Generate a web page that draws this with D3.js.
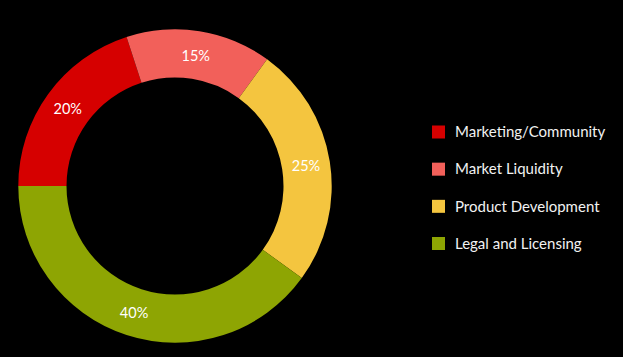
<!DOCTYPE html>
<html><head><meta charset="utf-8">
<script src="https://cdn.jsdelivr.net/npm/d3@7"></script>
<style>html,body{margin:0;padding:0;background:#000;}svg{display:block;}</style>
</head><body>
<svg id="chart" width="623" height="357"></svg>
<script>
const categories = ["Marketing/Community", "Market Liquidity", "Product Development", "Legal and Licensing"];
const values = [20, 15, 25, 40];
const colors = ["#d60000", "#f2605a", "#f4c53f", "#8ea503"];

const svg = d3.select("#chart");
svg.append("rect").attr("width", 623).attr("height", 357).attr("fill", "#000");

const cx = 175, cy = 186, rOuter = 156.7, rInner = 108.5;
const data = categories.map((c, i) => ({cat: c, value: values[i], color: colors[i]}));
const pie = d3.pie().value(d => d.value).sort(null).startAngle(-Math.PI / 2).endAngle(1.5 * Math.PI);
const arc = d3.arc().innerRadius(rInner).outerRadius(rOuter);
const g = svg.append("g").attr("transform", `translate(${cx},${cy})`);
const arcs = pie(data);
g.selectAll("path").data(arcs).join("path").attr("d", arc).attr("fill", d => d.data.color);
g.selectAll("text").data(arcs).join("text")
  .attr("transform", d => `translate(${arc.centroid(d)})`)
  .attr("text-anchor", "middle").attr("dy", "0.4em")
  .attr("fill", "#fff").style("font-family", "Lato, sans-serif").style("font-size", "14.5px")
  .text(d => d.data.value + "%");

const legend = svg.append("g");
const ly = d3.scalePoint().domain(categories).range([131.5, 243]);
const items = legend.selectAll("g").data(data).join("g").attr("transform", d => `translate(432,${ly(d.cat)})`);
items.append("rect").attr("x", 0).attr("y", -6).attr("width", 13).attr("height", 13).attr("fill", d => d.color);
items.append("text").attr("x", 23).attr("y", 0.5).attr("dy", "0.35em")
  .attr("fill", "#f2f2f2").style("font-family", "Lato, sans-serif").style("font-size", "15px")
  .text(d => d.cat);
</script>
</body></html>
